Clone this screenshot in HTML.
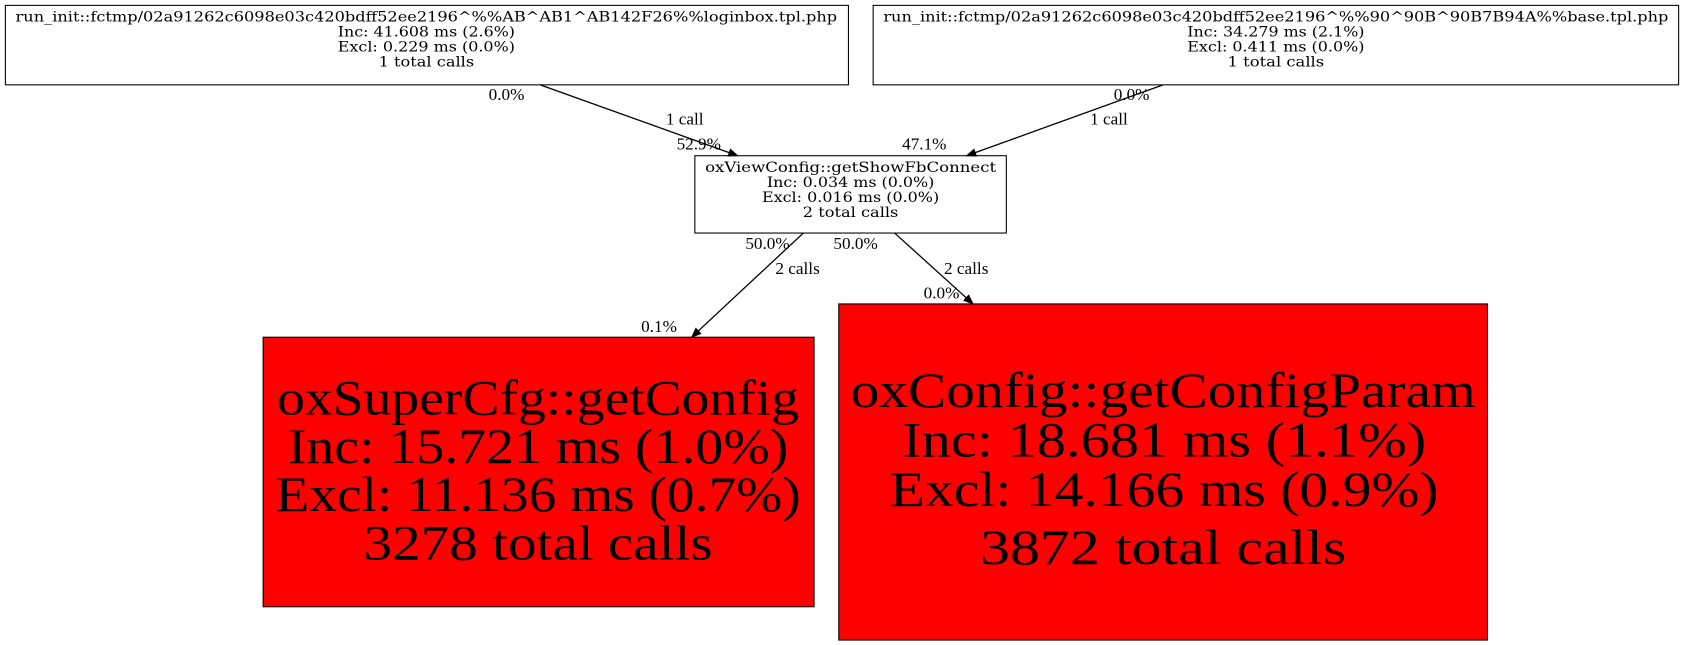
<!DOCTYPE html>
<html><head><meta charset="utf-8"><style>
html,body{margin:0;padding:0;background:#fff;width:1684px;height:645px;overflow:hidden}
svg{display:block}
.s{font-family:"DejaVu Serif","Liberation Serif",serif;font-size:13px;text-anchor:middle}
.e{font-family:"Liberation Serif",serif;font-size:16px}
.b{font-family:"Liberation Serif",serif;font-size:46px;text-anchor:middle}
</style></head><body>
<svg width="1684" height="645" viewBox="0 0 1568 600.6" preserveAspectRatio="none" xmlns="http://www.w3.org/2000/svg">
<defs><marker id="a" markerWidth="10" markerHeight="8" refX="9" refY="4" orient="auto" markerUnits="userSpaceOnUse"><path d="M0,0L10,4L0,8z" fill="#000"/></marker></defs>
<rect x="5" y="5" width="785" height="74" fill="#fff" stroke="#000"/>
<text class="s" x="397" y="20" textLength="765" lengthAdjust="spacingAndGlyphs">run_init::fctmp/02a91262c6098e03c420bdff52ee2196^%%AB^AB1^AB142F26%%loginbox.tpl.php</text>
<text class="s" x="397" y="34" textLength="165" lengthAdjust="spacingAndGlyphs">Inc: 41.608 ms (2.6%)</text>
<text class="s" x="397" y="48" textLength="165" lengthAdjust="spacingAndGlyphs">Excl: 0.229 ms (0.0%)</text>
<text class="s" x="397" y="62" textLength="89" lengthAdjust="spacingAndGlyphs">1 total calls</text>
<rect x="813" y="5" width="750" height="74" fill="#fff" stroke="#000"/>
<text class="s" x="1188" y="20" textLength="731" lengthAdjust="spacingAndGlyphs">run_init::fctmp/02a91262c6098e03c420bdff52ee2196^%%90^90B^90B7B94A%%base.tpl.php</text>
<text class="s" x="1188" y="34" textLength="165" lengthAdjust="spacingAndGlyphs">Inc: 34.279 ms (2.1%)</text>
<text class="s" x="1188" y="48" textLength="165" lengthAdjust="spacingAndGlyphs">Excl: 0.411 ms (0.0%)</text>
<text class="s" x="1188" y="62" textLength="90" lengthAdjust="spacingAndGlyphs">1 total calls</text>
<rect x="647" y="145" width="290" height="72" fill="#fff" stroke="#000"/>
<text class="s" x="792" y="160" textLength="271" lengthAdjust="spacingAndGlyphs">oxViewConfig::getShowFbConnect</text>
<text class="s" x="792" y="174" textLength="156" lengthAdjust="spacingAndGlyphs">Inc: 0.034 ms (0.0%)</text>
<text class="s" x="792" y="188" textLength="165" lengthAdjust="spacingAndGlyphs">Excl: 0.016 ms (0.0%)</text>
<text class="s" x="792" y="202" textLength="89" lengthAdjust="spacingAndGlyphs">2 total calls</text>
<rect x="245" y="314" width="513" height="251" fill="#f00" stroke="#000"/>
<text class="b" x="501" y="386" textLength="486" lengthAdjust="spacingAndGlyphs">oxSuperCfg::getConfig</text>
<text class="b" x="501" y="431" textLength="466" lengthAdjust="spacingAndGlyphs">Inc: 15.721 ms (1.0%)</text>
<text class="b" x="501" y="476" textLength="489" lengthAdjust="spacingAndGlyphs">Excl: 11.136 ms (0.7%)</text>
<text class="b" x="501" y="521" textLength="325" lengthAdjust="spacingAndGlyphs">3278 total calls</text>
<rect x="781" y="283" width="604" height="313" fill="#f00" stroke="#000"/>
<text class="b" x="1083" y="379" textLength="582" lengthAdjust="spacingAndGlyphs">oxConfig::getConfigParam</text>
<text class="b" x="1084" y="425" textLength="488" lengthAdjust="spacingAndGlyphs">Inc: 18.681 ms (1.1%)</text>
<text class="b" x="1084" y="471" textLength="511" lengthAdjust="spacingAndGlyphs">Excl: 14.166 ms (0.9%)</text>
<text class="b" x="1083" y="525" textLength="341" lengthAdjust="spacingAndGlyphs">3872 total calls</text>
<g stroke="#000" stroke-width="1.2" fill="none" marker-end="url(#a)">
<line x1="503" y1="79" x2="687" y2="145"/>
<line x1="1083" y1="79" x2="900" y2="145"/>
<line x1="748" y1="217" x2="644" y2="314"/>
<line x1="833" y1="217" x2="906" y2="283"/>
</g>
<text class="e" x="455" y="93">0.0%</text>
<text class="e" x="620" y="116">1 call</text>
<text class="e" x="630" y="139">52.9%</text>
<text class="e" x="1037" y="93">0.0%</text>
<text class="e" x="1015" y="116">1 call</text>
<text class="e" x="840" y="139">47.1%</text>
<text class="e" x="694" y="232">50.0%</text>
<text class="e" x="722" y="255">2 calls</text>
<text class="e" x="597" y="309">0.1%</text>
<text class="e" x="776" y="232">50.0%</text>
<text class="e" x="879" y="255">2 calls</text>
<text class="e" x="860" y="278">0.0%</text>
</svg>
</body></html>
